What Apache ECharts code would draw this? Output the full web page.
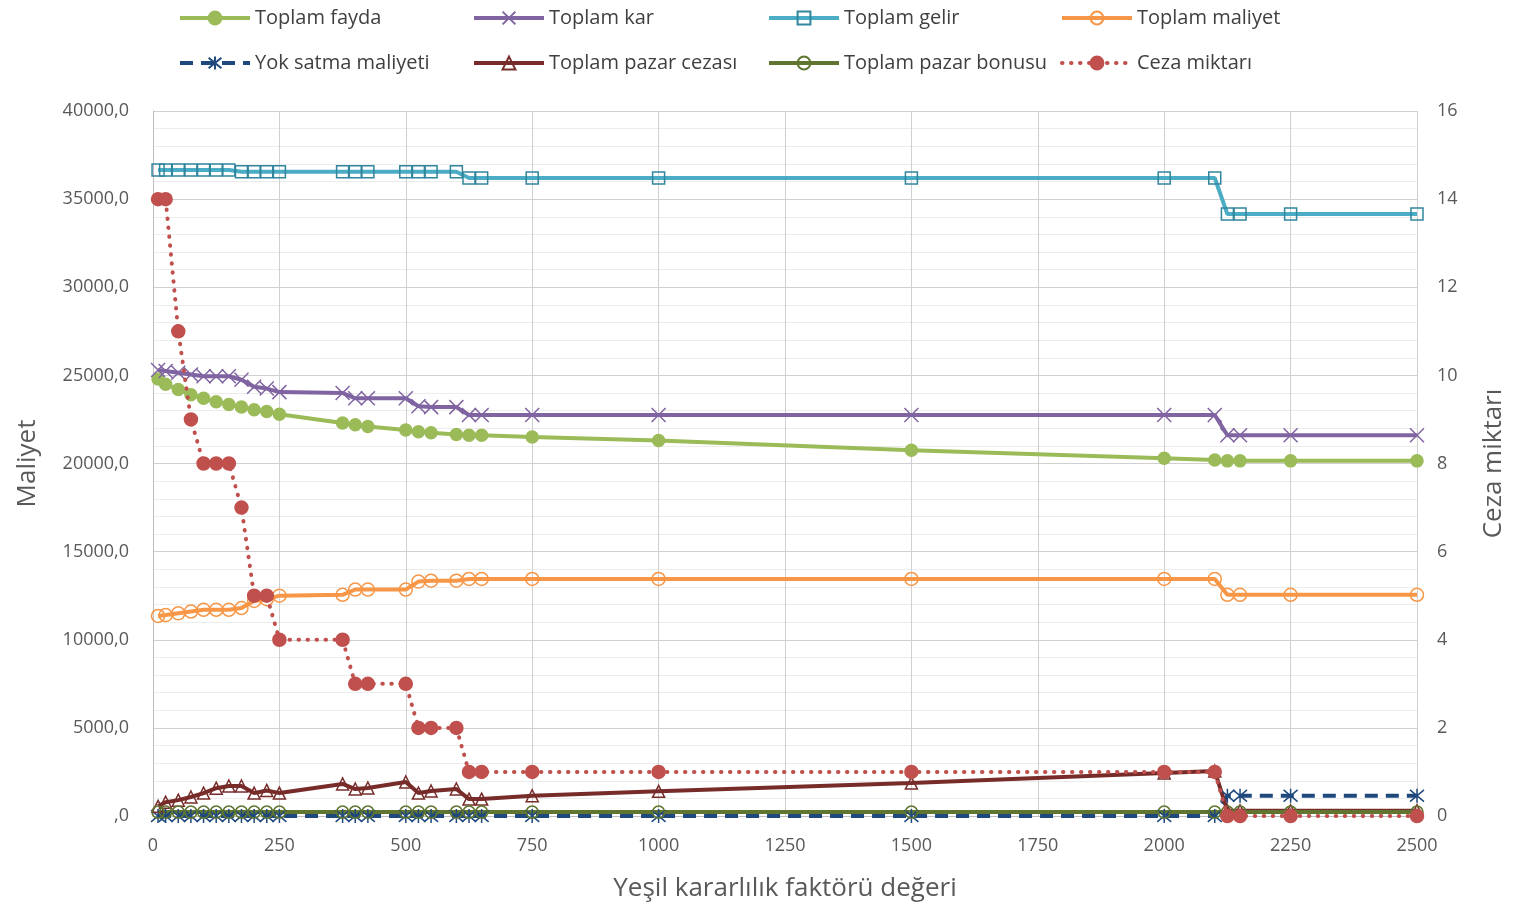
<!DOCTYPE html>
<html><head><meta charset="utf-8">
<script src="https://cdn.jsdelivr.net/npm/echarts@6/dist/echarts.min.js"></script>
<style>html,body{margin:0;padding:0;background:#fff}#c{width:1513px;height:913px}</style>
</head><body><div id="c"></div>
<script>
const xValues = [10,25,50,75,100,125,150,175,200,225,250,375,400,425,500,525,550,600,625,650,750,1000,1500,2000,2100,2125,2150,2250,2500];
const toplamFayda = [24800,24500,24200,23900,23700,23500,23350,23200,23050,22950,22800,22300,22200,22100,21900,21800,21750,21650,21600,21600,21500,21300,20750,20300,20200,20150,20150,20150,20150];
const toplamKar = [25300,25250,25150,25050,24950,24950,24950,24750,24350,24250,24050,24000,23700,23700,23700,23250,23200,23200,22750,22750,22750,22750,22750,22750,22750,21600,21600,21600,21600];
const toplamGelir = [36650,36650,36650,36650,36650,36650,36650,36550,36550,36550,36550,36550,36550,36550,36550,36550,36550,36550,36200,36200,36200,36200,36200,36200,36200,34150,34150,34150,34150];
const toplamMaliyet = [11350,11400,11500,11600,11700,11700,11700,11800,12200,12300,12500,12550,12850,12850,12850,13300,13350,13350,13450,13450,13450,13450,13450,13450,13450,12550,12550,12550,12550];
const yokSatma = [0,0,0,0,0,0,0,0,0,0,0,0,0,0,0,0,0,0,0,0,0,0,0,0,0,1150,1150,1150,1150];
const pazarCezasi = [550,780,900,1080,1300,1580,1700,1700,1300,1450,1300,1820,1530,1590,1930,1300,1420,1530,960,960,1150,1400,1870,2440,2550,300,300,300,300];
const pazarBonusu = [220,220,220,220,220,220,220,220,220,220,220,220,220,220,220,220,220,220,220,220,220,220,220,220,220,220,220,220,220];
const cezaMiktari = [14,14,11,9,8,8,8,7,5,5,4,4,3,3,3,2,2,2,1,1,1,1,1,1,1,0,0,0,0];
const leftTicks = [0,5000,10000,15000,20000,25000,30000,35000,40000];
const rightTicks = [0,2,4,6,8,10,12,14,16];
const xTicks = [0,250,500,750,1000,1250,1500,1750,2000,2250,2500];

const pairs = arr => xValues.map((x,i)=>[x,arr[i]]);
const FONT = '"Open Sans", "DejaVu Sans", sans-serif';
const X_PATH = 'path://M0,0L10,10M10,0L0,10';
const STAR_PATH = 'path://M0,0L10,10M10,0L0,10M5,-1L5,11';

function mk(name, data, color, opts) {
  return Object.assign({
    name, type:'line', data: pairs(data), symbolSize: 11, yAxisIndex: 0,
    lineStyle:{color, width:4}, itemStyle:{color, borderColor:color, borderWidth:1.5},
    emphasis:{disabled:true}, animation:false, z: 2
  }, opts || {});
}
const hollow = c => ({color:'rgba(255,255,255,0)', borderColor:c, borderWidth:1.5});

const series = [
  mk('Toplam fayda', toplamFayda, '#9BBB59', {symbol:'circle', symbolSize:12}),
  mk('Toplam kar', toplamKar, '#8064A2', {symbol:X_PATH, symbolSize:14, itemStyle:hollow('#8064A2')}),
  mk('Toplam gelir', toplamGelir, '#4BACC6', {symbol:'rect', symbolSize:12, itemStyle:hollow('#31859C')}),
  mk('Toplam maliyet', toplamMaliyet, '#F79646', {symbol:'circle', symbolSize:13, itemStyle:hollow('#F79646')}),
  mk('Yok satma maliyeti', yokSatma, '#1F497D', {symbol:STAR_PATH, symbolSize:14, itemStyle:hollow('#1F497D'), lineStyle:{color:'#1F497D', width:4, type:[13,8]}}),
  mk('Toplam pazar cezası', pazarCezasi, '#772C2A', {symbol:'triangle', symbolSize:12, itemStyle:hollow('#772C2A')}),
  mk('Toplam pazar bonusu', pazarBonusu, '#5F7530', {symbol:'circle', symbolSize:12, itemStyle:hollow('#5F7530')}),
  mk('Ceza miktarı', cezaMiktari, '#C0504D', {symbol:'circle', symbolSize:13, yAxisIndex:1, z:3, lineStyle:{color:'#C0504D', width:4, type:[0.5,8.5], cap:'round'}})
];

const names = series.map(s=>s.name);
const legLeft = [178,472,767,1060];
const legends = names.map((n,i)=>({
  data:[n], left: legLeft[i%4], top: i<4 ? 8 : 53, padding: 0,
  itemWidth: 70, itemHeight: 16, itemGap: 0,
  lineStyle:{width:4},
  textStyle:{fontFamily:FONT, fontSize:20, color:'#404040', padding:[0,0,0,0]},
  selectedMode:false
}));

const chart = echarts.init(document.getElementById('c'), null, {renderer:'canvas'});
chart.setOption({
  backgroundColor:'#fff',
  animation:false,
  legend: legends,
  grid:{left:153, right:96, top:111, bottom:97, containLabel:false, outerBoundsMode:'none'},
  xAxis:{
    type:'value', min:xTicks[0], max:xTicks[xTicks.length-1], interval:250,
    name:'Yeşil kararlılık faktörü değeri', nameLocation:'middle', nameGap:60,
    nameTextStyle:{fontFamily:FONT, fontSize:26, color:'#595959'},
    axisLine:{show:true, lineStyle:{color:'#bfbfbf', width:1}},
    axisTick:{show:false},
    axisLabel:{fontFamily:FONT, fontSize:18, color:'#595959', margin:21, formatter: v => String(v)},
    splitLine:{show:true, lineStyle:{color:'#d0d0d0', width:1}}
  },
  yAxis:[{
    type:'value', min:leftTicks[0], max:leftTicks[leftTicks.length-1], interval:5000,
    name:'Maliyet', nameLocation:'middle', nameGap:112, nameRotate:90,
    nameTextStyle:{fontFamily:FONT, fontSize:26, color:'#595959'},
    axisLine:{show:true, lineStyle:{color:'#bfbfbf'}},
    axisTick:{show:false},
    axisLabel:{fontFamily:FONT, fontSize:18, color:'#595959', margin:24, formatter: v => (v===0 ? '' : String(v)) + ',0'},
    splitLine:{show:true, lineStyle:{color:'#d0d0d0', width:1}},
    minorTick:{show:false, splitNumber:5},
    minorSplitLine:{show:true, lineStyle:{color:'#ececec', width:1}}
  },{
    type:'value', min:rightTicks[0], max:rightTicks[rightTicks.length-1], interval:2,
    name:'Ceza miktarı', nameLocation:'middle', nameGap:64, nameRotate:90,
    nameTextStyle:{fontFamily:FONT, fontSize:26, color:'#595959'},
    axisLine:{show:false}, axisTick:{show:false},
    axisLabel:{fontFamily:FONT, fontSize:18, color:'#595959', margin:20},
    splitLine:{show:false}
  }],
  series
});
</script></body></html>
